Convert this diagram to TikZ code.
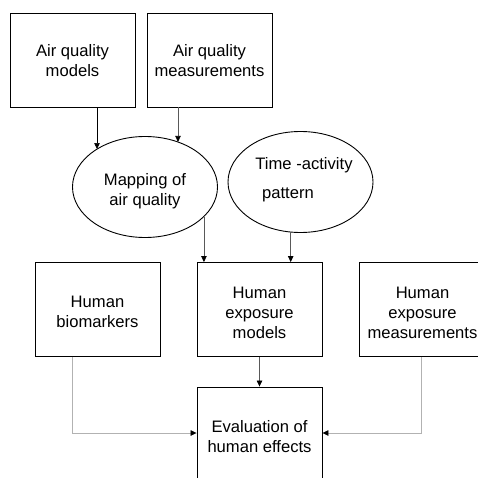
\documentclass[tikz,border=0pt]{standalone}
\usepackage{fontspec}
\setmainfont{Liberation Sans}
\usetikzlibrary{arrows.meta,shapes.geometric}
\begin{document}
\begin{tikzpicture}[x=1pt,y=-1pt,
  box/.style={draw=black,line width=0.9pt,inner sep=0pt,minimum width=125pt,minimum height=94pt},
  oval/.style={draw=black,line width=0.9pt,ellipse,inner sep=0pt,minimum width=145pt,minimum height=101pt},
  txt/.style={align=center,inner sep=0pt,font=\fontsize{16.6}{20}\selectfont},
  arr/.style={line width=0.7pt,-{Triangle[length=6pt,width=5.5pt,color=black]}},
  arrg/.style={arr,draw=gray!70!black},
  arrl/.style={arr,draw=black!30}]
\clip (0,0) rectangle (478,478);
\fill[white] (0,0) rectangle (478,478);
% top boxes
\node[box] (b1) at (72.5,60) {};
\node[box] (b2) at (209.5,60) {};
\node[txt,anchor=base] (t1) at (72.5,77) {Air quality\\models};
\node[txt,anchor=base] (t2) at (209.5,77) {Air quality\\measurements};
% ellipses
\node[oval] (e1) at (145,187) {};
\node[oval] (e2) at (300.5,182) {};
\node[txt,anchor=base] (t3) at (145,205) {Mapping of\\air quality};
\node[txt,anchor=base] (t4a) at (304,170) {Time -activity};
\node[txt,anchor=base] (t4b) at (288,198) {pattern};
% middle row
\node[box] (b4) at (97.5,309.5) {};
\node[box] (b5) at (259.5,309.5) {};
\node[box,minimum width=127pt] (b7) at (422.5,309.5) {};
\node[txt,anchor=base] (t5) at (97.5,327) {Human\\biomarkers};
\node[txt,anchor=base] (t6) at (259.5,338) {Human\\exposure\\models};
\node[txt,anchor=base] (t7) at (422.5,338) {Human\\exposure\\measurements};
% evaluation
\node[box,minimum height=92pt] (b6) at (259.5,433) {};
\node[txt,anchor=base] (t8) at (259.5,452) {Evaluation of\\human effects};
% connectors
\draw[arr] ([xshift=24.5pt]b1.south) -- ([xshift=24.5pt]b1.south |- e1.142);
\draw[arrg] ([xshift=-31.5pt]b2.south) -- ([xshift=-31.5pt]b2.south |- e1.53);
\draw[arrg] (e1.-27) -- (e1.-27 |- b5.north);
\draw[arrg] (e2.-101) -- (e2.-101 |- b5.north);
\draw[arrg] (b5.south) -- (b6.north);
\draw[arrl] ([xshift=-25.5pt]b4.south) |- (b6.west);
\draw[arrl] ([xshift=-1.5pt]b7.south) |- (b6.east);
\end{tikzpicture}
\end{document}
